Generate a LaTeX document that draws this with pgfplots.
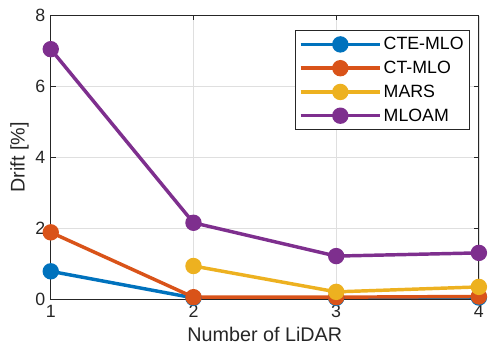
\documentclass[border=0pt]{standalone}
\usepackage{fontspec}
\setmainfont{Liberation Sans}
\usepackage{pgfplots}
\pgfplotsset{compat=1.18}

\definecolor{mblue}{RGB}{0,114,189}
\definecolor{morange}{RGB}{217,83,25}
\definecolor{myellow}{RGB}{237,177,32}
\definecolor{mpurple}{RGB}{126,47,142}
\definecolor{axgray}{RGB}{38,38,38}

\begin{document}
\begin{tikzpicture}
\begin{axis}[
    scale only axis,
    width=432bp, height=286bp,
    xmin=1, xmax=4, ymin=0, ymax=8,
    xtick={1,2,3,4}, ytick={0,2,4,6,8},
    xlabel={Number of LiDAR},
    ylabel={Drift [\%]},
    /pgf/number format/assume math mode=true,
    tick label style={font=\fontsize{18}{20}\selectfont, text=axgray},
    xticklabel style={yshift=-3pt},
    yticklabel style={xshift=-2pt},
    label style={font=\fontsize{20}{22}\selectfont, text=axgray},
    grid=major,
    major grid style={gray!25, line width=0.6pt},
    axis line style={axgray, line width=0.8pt},
    tick style={axgray, line width=0.8pt},
    tick align=inside,
    major tick length=5pt,
    xlabel style={yshift=-2pt},
    ylabel style={yshift=0pt},
    legend style={at={(0.979,0.948)}, anchor=north east, draw=axgray,
        line width=0.6pt, font=\fontsize{18}{20}\selectfont,
        row sep=6pt, inner xsep=4pt, inner ysep=5pt},
    legend cell align=left,
    legend image code/.code={
        \draw[#1, line width=3.5pt] (0bp,0bp) -- (80bp,0bp);
        \fill[#1] (40bp,0bp) circle (6.5bp);
    },
    every axis plot/.append style={line width=3.5pt, mark=*, mark size=6.5bp},
]
\addplot[color=mblue, mark options={fill=mblue, draw=mblue}] coordinates {(1,0.78) (2,0.03) (3,0.03) (4,0.04)};
\addlegendentry{CTE-MLO}
\addplot[color=morange, mark options={fill=morange, draw=morange}] coordinates {(1,1.88) (2,0.05) (3,0.05) (4,0.07)};
\addlegendentry{CT-MLO}
\addplot[color=myellow, mark options={fill=myellow, draw=myellow}] coordinates {(2,0.93) (3,0.2) (4,0.34)};
\addlegendentry{MARS}
\addplot[color=mpurple, mark options={fill=mpurple, draw=mpurple}] coordinates {(1,7.05) (2,2.15) (3,1.21) (4,1.3)};
\addlegendentry{MLOAM}
\end{axis}
\path (current axis.outer east) ++(12bp,0);
\path (current axis.outer west) ++(-7bp,0);
\path (current axis.outer north) ++(0,6bp);
\end{tikzpicture}
\end{document}
